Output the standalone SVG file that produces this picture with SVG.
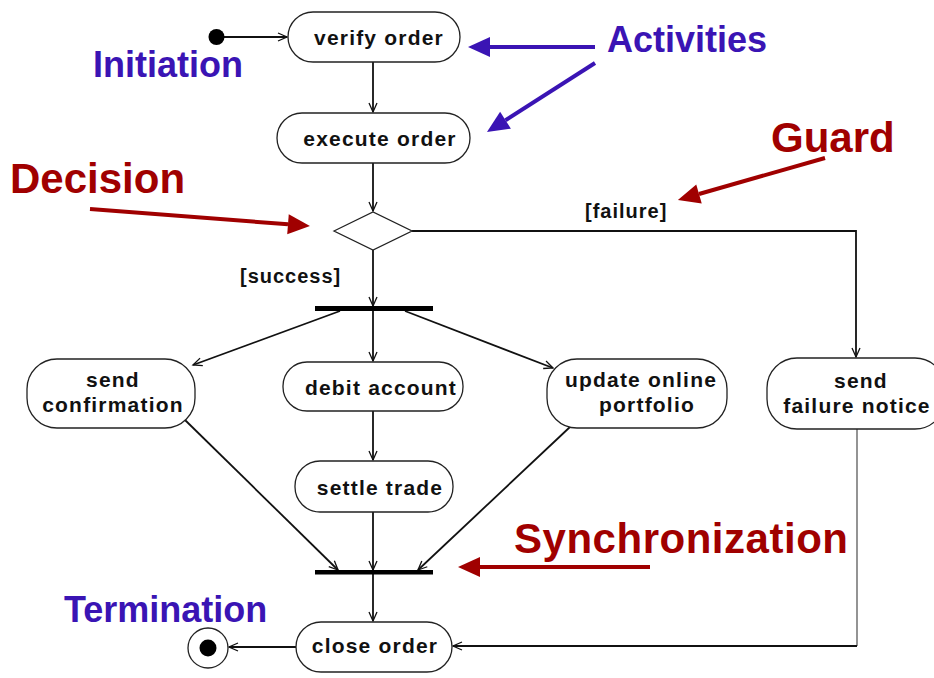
<svg xmlns="http://www.w3.org/2000/svg" width="934" height="678" viewBox="0 0 934 678">
<defs>
<style>
.node{fill:#fff;stroke:#222;stroke-width:1.3}
.t{font-family:"Liberation Sans",Arial,sans-serif;font-weight:bold;font-size:21px;letter-spacing:1.2px;fill:#111;text-anchor:middle}
.g{font-family:"Liberation Sans",Arial,sans-serif;font-weight:bold;font-size:20px;letter-spacing:1px;fill:#111}
.c{stroke:#111;stroke-width:1.8;fill:none;marker-end:url(#open)}
.bar{fill:#000}
.blue{font-family:"Liberation Sans",Arial,sans-serif;font-weight:bold;font-size:36px;fill:#3a14b4}
.red{font-family:"Liberation Sans",Arial,sans-serif;font-weight:bold;font-size:42px;fill:#a00000}
.ab{stroke:#3a14b4;stroke-width:4;fill:none;marker-end:url(#hb)}
.ar{stroke:#a00000;stroke-width:4;fill:none;marker-end:url(#hr)}
</style>
<marker id="open" markerUnits="userSpaceOnUse" markerWidth="12" markerHeight="12" refX="9" refY="4" orient="auto" overflow="visible">
<path d="M0,0 L9,4 L0,8" fill="none" stroke="#111" stroke-width="1.3"/>
</marker>
<marker id="hb" markerUnits="userSpaceOnUse" markerWidth="24" markerHeight="22" refX="0" refY="10" orient="auto" overflow="visible">
<path d="M0,0 L22,10 L0,20 z" fill="#3a14b4"/>
</marker>
<marker id="hr" markerUnits="userSpaceOnUse" markerWidth="24" markerHeight="22" refX="0" refY="10" orient="auto" overflow="visible">
<path d="M0,0 L22,10 L0,20 z" fill="#a00000"/>
</marker>
</defs>
<rect width="934" height="678" fill="#fff"/>

<g id="connectors">
<line class="c" x1="224" y1="37" x2="287" y2="37"/>
<line class="c" x1="373" y1="62" x2="373" y2="112"/>
<line class="c" x1="373" y1="163" x2="373" y2="211"/>
<line class="c" x1="373" y1="250" x2="373" y2="306"/>
<polyline class="c" points="412,231 856,231 856,357"/>
<line class="c" x1="340" y1="311" x2="193" y2="365"/>
<line class="c" x1="373" y1="311" x2="373" y2="361"/>
<line class="c" x1="405" y1="311" x2="553" y2="368"/>
<line class="c" x1="373" y1="411" x2="373" y2="460"/>
<line class="c" x1="185" y1="420" x2="338" y2="570"/>
<line class="c" x1="373" y1="512" x2="373" y2="570"/>
<line class="c" x1="570" y1="427" x2="418" y2="570"/>
<line class="c" x1="373" y1="574" x2="373" y2="621"/>
<line class="c" x1="296" y1="647" x2="229" y2="647"/>
<line x1="857" y1="429" x2="857" y2="646" stroke="#888" stroke-width="1.8"/>
<line class="c" x1="857" y1="646" x2="453" y2="646"/>
<text class="g" x="240" y="283">[success]</text>
<text class="g" x="585" y="218">[failure]</text>
</g>

<g id="start"><circle cx="216.5" cy="37" r="8" fill="#000"/></g>
<g id="verify-order"><rect class="node" x="288" y="12" width="172" height="50" rx="25"/><text class="t" x="379" y="45">verify order</text></g>
<g id="execute-order"><rect class="node" x="277" y="113" width="193" height="50" rx="25"/><text class="t" x="380" y="146">execute order</text></g>
<g id="decision"><polygon class="node" points="334,231 373,212 412,231 373,250"/></g>
<g id="fork"><rect class="bar" x="315" y="306" width="118" height="5"/></g>
<g id="send-confirmation"><rect class="node" x="27" y="359" width="168" height="69" rx="30"/><text class="t" x="113" y="387">send</text><text class="t" x="113" y="412">confirmation</text></g>
<g id="debit-account"><rect class="node" x="283" y="362" width="180" height="49" rx="24"/><text class="t" x="381" y="395">debit account</text></g>
<g id="update-online-portfolio"><rect class="node" x="547" y="359" width="180" height="69" rx="30"/><text class="t" x="641" y="387">update online</text><text class="t" x="647" y="412">portfolio</text></g>
<g id="send-failure-notice"><rect class="node" x="767" y="358" width="178" height="71" rx="30"/><text class="t" x="861" y="388">send</text><text class="t" x="857" y="413">failure notice</text></g>
<g id="settle-trade"><rect class="node" x="295" y="461" width="158" height="51" rx="25"/><text class="t" x="380" y="495">settle trade</text></g>
<g id="join"><rect class="bar" x="315" y="570" width="118" height="4.5"/></g>
<g id="close-order"><rect class="node" x="296" y="622" width="156" height="50" rx="25"/><text class="t" x="375" y="653">close order</text></g>
<g id="end"><circle cx="208" cy="648" r="20" fill="#fff" stroke="#222" stroke-width="1.3"/><circle cx="208" cy="648" r="8.5" fill="#000"/></g>

<g id="annotations">
<text class="blue" x="607" y="52">Activities</text>
<line class="ab" x1="595" y1="47" x2="490" y2="47"/>
<line class="ab" x1="595" y1="63" x2="505.5" y2="120.2"/>
<text class="blue" x="93" y="77">Initiation</text>
<text class="blue" x="64" y="622">Termination</text>
<text class="red" x="10" y="193">Decision</text>
<line class="ar" x1="90" y1="209" x2="288" y2="224.3"/>
<text class="red" x="771" y="152">Guard</text>
<line class="ar" x1="825" y1="158" x2="699" y2="194"/>
<text class="red" x="514" y="553" textLength="334">Synchronization</text>
<line class="ar" x1="650" y1="567" x2="480" y2="567"/>
</g>
</svg>
